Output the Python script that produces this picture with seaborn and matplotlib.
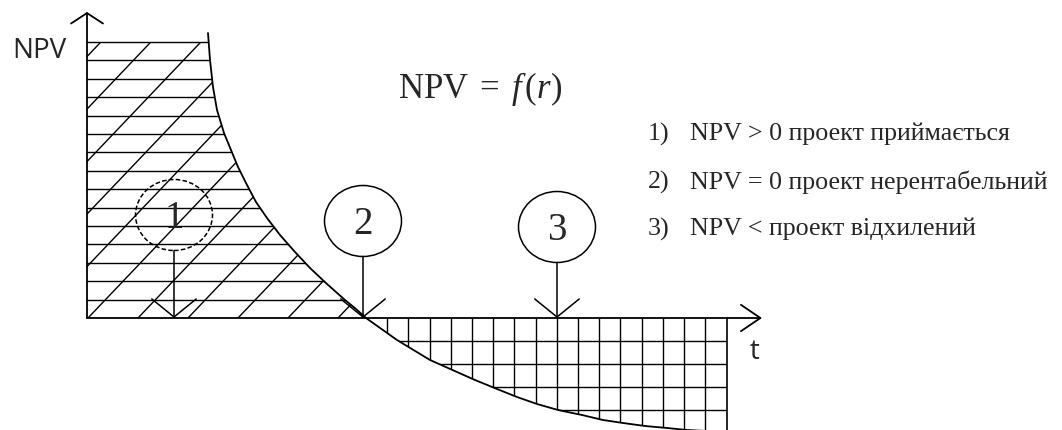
import numpy as np
import seaborn as sns
import matplotlib.pyplot as plt
from matplotlib.patches import Ellipse

# NPV = f(r) curve (t to the right, NPV up)
curve_t = [12.1, 12.3, 12.6, 13.0, 13.7, 14.4, 15.1, 16.0, 16.9, 18.0, 19.3, 20.8, 22.3, 24.0, 25.8, 26.9, 27.9,
           31.0, 34.3, 37.0, 38.8, 41.0, 43.0, 45.0, 47.1, 49.5, 51.6, 53.6, 55.8, 58.0, 60.0, 64.0]
curve_npv = [28.5, 25.8, 23.1, 20.8, 18.5, 16.8, 15.1, 13.3, 11.6, 10.0, 8.3, 6.6, 5.0, 3.4, 1.8, 0.9, 0.0,
             -2.2, -4.2, -5.4, -6.2, -7.1, -7.9, -8.6, -9.2, -9.7, -10.2, -10.5, -10.8, -11.0, -11.2, -11.4]
top_npv = 27.6   # upper edge of zone 1
end_t = 64.0     # right edge of zone 3

marker_labels = ['1', '2', '3']
marker_t = [8.7, 27.6, 47.0]
marker_npv = [10.3, 9.7, 9.1]

rule_nums = ['1)', '2)', '3)']
rule_texts = ['NPV > 0 проект приймається', 'NPV = 0 проект нерентабельний', 'NPV < проект відхилений']
rule_npv = [18.4, 13.6, 8.9]

sns.set_style('white')
plt.rcParams['font.family'] = ['Liberation Serif', 'DejaVu Serif']
plt.rcParams['mathtext.fontset'] = 'custom'
plt.rcParams['mathtext.rm'] = 'Liberation Serif'
plt.rcParams['mathtext.it'] = 'Liberation Serif:italic'

fig = plt.figure(figsize=(10.62, 4.30), dpi=100)
ax = fig.add_axes([0, 0, 1, 1])

t = np.array(curve_t)
npv = np.array(curve_npv)
pos = npv >= 0
neg = npv <= 0

sns.lineplot(x=curve_t, y=curve_npv, sort=False, color='black', lw=1.3, ax=ax)

# zone 1 (NPV > 0): horizontal + diagonal hatching
zone1 = ax.fill(np.r_[0, 0, t[pos]], np.r_[0, top_npv, np.minimum(npv[pos], top_npv)],
                facecolor='none', edgecolor='none')[0]
h_step = top_npv / 15
for y in np.arange(1, 15) * h_step:
    ln = ax.plot([0, 30], [y, y], color='black', lw=1.0)[0]
    ln.set_clip_path(zone1)
ax.plot([0, t[0]], [top_npv, top_npv], color='black', lw=1.0)
slope = 1.05
for k in range(-6, 7):
    x0 = 0.1 + 5.0 * k
    ln = ax.plot([x0, x0 + 40], [0, 40 * slope], color='black', lw=1.0)[0]
    ln.set_clip_path(zone1)

# zone 3 (NPV < 0): square grid
zone3 = ax.fill(np.r_[t[neg], end_t], np.r_[npv[neg], 0], facecolor='none', edgecolor='none')[0]
x_root = t[npv == 0][0]
for k in range(1, 17):
    ln = ax.plot([x_root + 2.12 * k] * 2, [0, -15], color='black', lw=1.0)[0]
    ln.set_clip_path(zone3)
for k in range(1, 6):
    ln = ax.plot([x_root, end_t], [-2.3 * k] * 2, color='black', lw=1.0)[0]
    ln.set_clip_path(zone3)
ax.plot([end_t, end_t], [0, -15], color='black', lw=1.2)

# axes with open arrow heads
ax.annotate('', xy=(67.5, 0), xytext=(0, 0),
            arrowprops=dict(arrowstyle='->,head_length=1.4,head_width=0.95', lw=1.3, color='black',
                            shrinkA=0, shrinkB=0, mutation_scale=10))
ax.annotate('', xy=(0, 30.6), xytext=(0, 0),
            arrowprops=dict(arrowstyle='->,head_length=0.75,head_width=1.15', lw=1.3, color='black',
                            shrinkA=0, shrinkB=0, mutation_scale=10))
ax.text(-7.5, 26.7, 'NPV', fontsize=20, family=['Open Sans', 'DejaVu Sans'], ha='left', va='center')
ax.text(66.8, -3.4, 't', fontsize=20, family=['Open Sans', 'DejaVu Sans'], ha='center', va='center')

# numbered circles pointing to the axis (the first one is dashed)
for i, (lab, mt, mn) in enumerate(zip(marker_labels, marker_t, marker_npv)):
    ls = (0, (3, 1.5)) if i == 0 else '-'
    ax.add_patch(Ellipse((mt, mn), 7.7, 7.1, fill=False, edgecolor='black', lw=1.1, linestyle=ls))
    ax.text(mt, mn - 0.3, lab, fontsize=28, ha='center', va='center')
    ax.annotate('', xy=(mt, 0), xytext=(mt, mn - 3.55),
                arrowprops=dict(arrowstyle='->,head_length=1.3,head_width=1.6', lw=1.1, color='black',
                                shrinkA=0, shrinkB=0, mutation_scale=10))

ax.text(31.1, 22.0, r'$\mathrm{NPV}\;=\;f\,(r)$', fontsize=25, ha='left', va='baseline')

for num, txt, y in zip(rule_nums, rule_texts, rule_npv):
    ax.text(56.1, y, num, fontsize=18.7, ha='left', va='center')
    ax.text(60.3, y, txt, fontsize=18.7, ha='left', va='center')

ax.set_xlim(-8.7, 97.5)
ax.set_ylim(-11.2, 31.8)
ax.axis('off')
fig.savefig('out.png', dpi=100, facecolor='white')
